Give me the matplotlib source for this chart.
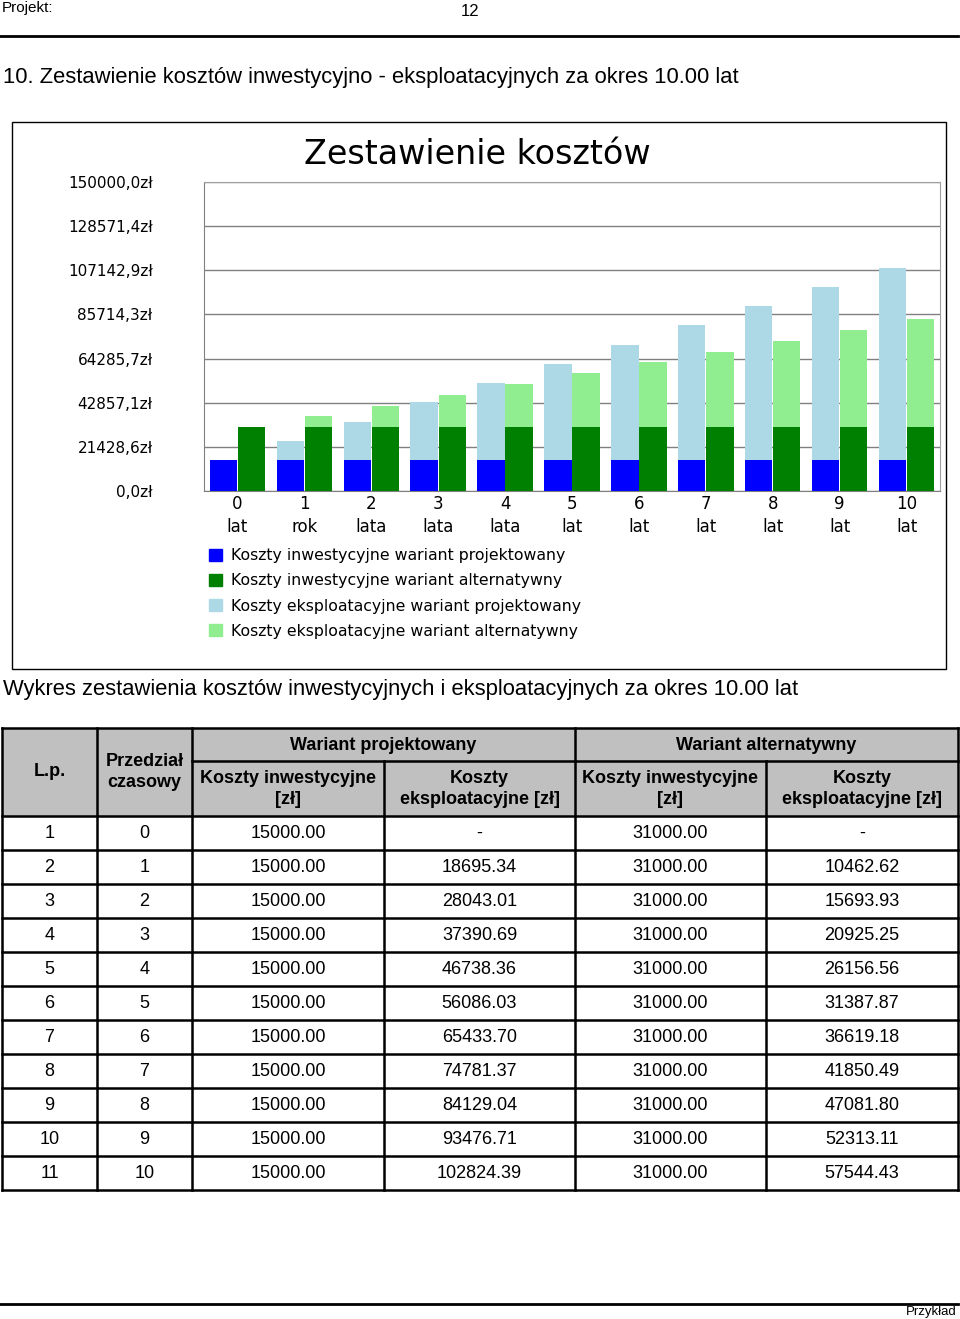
import matplotlib.pyplot as plt
import matplotlib.patches as mpatches
import numpy as np

plt.rcParams['font.family'] = ['Liberation Sans', 'DejaVu Sans']

# chart data
years = list(range(11))
year_units = ["lat", "rok", "lata", "lata", "lata", "lat", "lat", "lat", "lat", "lat", "lat"]
chart_inv_proj = [15000, 15000, 15000, 15000, 15000, 15000, 15000, 15000, 15000, 15000, 15000]
chart_inv_alt = [31000, 31000, 31000, 31000, 31000, 31000, 31000, 31000, 31000, 31000, 31000]
chart_op_proj = [0, 9347.67, 18695.34, 28043.01, 37390.69, 46738.36, 56086.03,
                 65433.70, 74781.37, 84129.04, 93476.71]
chart_op_alt = [0, 5231.31, 10462.62, 15693.93, 20925.25, 26156.56, 31387.87,
                36619.18, 41850.49, 47081.80, 52313.11]
legend_labels = ["Koszty inwestycyjne wariant projektowany",
                 "Koszty inwestycyjne wariant alternatywny",
                 "Koszty eksploatacyjne wariant projektowany",
                 "Koszty eksploatacyjne wariant alternatywny"]

# table data
lp = [1, 2, 3, 4, 5, 6, 7, 8, 9, 10, 11]
przedzial = [0, 1, 2, 3, 4, 5, 6, 7, 8, 9, 10]
inv_proj = [15000.00] * 11
op_proj = [None, 18695.34, 28043.01, 37390.69, 46738.36, 56086.03, 65433.70,
           74781.37, 84129.04, 93476.71, 102824.39]
inv_alt = [31000.00] * 11
op_alt = [None, 10462.62, 15693.93, 20925.25, 26156.56, 31387.87, 36619.18,
          41850.49, 47081.80, 52313.11, 57544.43]

W, H = 960, 1319
fig = plt.figure(figsize=(W / 100, H / 100), dpi=100)

# page layer in pixel coords
page = fig.add_axes([0, 0, 1, 1])
page.set_xlim(0, W)
page.set_ylim(H, 0)
page.axis('off')

page.text(2, 8, "Projekt:", fontsize=11, va='center', ha='left')
page.text(470, 12, "12", fontsize=12, va='center', ha='center')
page.plot([0, 958], [36, 36], color='black', lw=2)
page.text(3, 78, "10. Zestawienie kosztów inwestycyjno - eksploatacyjnych za okres 10.00 lat",
          fontsize=15.8, va='center', ha='left')
page.add_patch(mpatches.Rectangle((12, 122), 934, 547, fill=False, ec='black', lw=1))
page.text(3, 689, "Wykres zestawienia kosztów inwestycyjnych i eksploatacyjnych za okres 10.00 lat",
          fontsize=15.8, va='center', ha='left')
page.plot([0, 958], [1304, 1304], color='black', lw=2)
page.text(957, 1312, "Przykład", fontsize=9.5, va='center', ha='right')

# chart
left, right, top, bottom = 204, 940, 182, 491
ax = fig.add_axes([left / W, 1 - bottom / H, (right - left) / W, (bottom - top) / H])
x = np.arange(len(years))
bw = 0.41
ax.bar(x - 0.21, chart_inv_proj, bw, color='#0000ff', zorder=3)
ax.bar(x + 0.21, chart_inv_alt, bw, color='#008000', zorder=3)
ax.bar(x - 0.21, chart_op_proj, bw, bottom=chart_inv_proj, color='#add8e6', zorder=3)
ax.bar(x + 0.21, chart_op_alt, bw, bottom=chart_inv_alt, color='#90ee90', zorder=3)
ax.set_xlim(-0.5, 10.5)
ax.set_ylim(0, 150000)
yt = np.linspace(0, 150000, 8)
ax.set_yticks(yt)
ax.set_yticklabels([("%.1f" % v).replace('.', ',') + "zł" for v in yt],
                   fontsize=11, family='DejaVu Sans')
ax.set_xticks(x)
ax.set_xticklabels(["%d\n%s" % (y, u) for y, u in zip(years, year_units)],
                   fontsize=12, linespacing=1.35, family='DejaVu Sans')
ax.tick_params(axis='y', length=0, pad=37)
ax.tick_params(axis='x', length=0, pad=3)
ax.grid(axis='y', color='#808080', lw=1, zorder=0)
for s in ax.spines.values():
    s.set_color('#a0a0a0')
ax.spines['left'].set_color('#808080')
ax.spines['bottom'].set_color('#808080')
ax.set_title("Zestawienie kosztów", fontsize=24, family='DejaVu Sans', pad=13,
             x=(477 - left) / (right - left))

handles = [mpatches.Patch(color=c) for c in ['#0000ff', '#008000', '#add8e6', '#90ee90']]
fig.legend(handles, legend_labels, loc='upper left',
           bbox_to_anchor=(203 / W, 1 - 542 / H), frameon=False,
           prop={'family': 'DejaVu Sans', 'size': 11.3},
           handlelength=0.8, handleheight=0.8, handletextpad=0.6,
           labelspacing=0.65, borderaxespad=0)

# table
cols = [2, 97, 192, 384, 575, 766, 958]
t_top, t_mid, t_hdr = 728, 761, 816
row_h = 34
n = len(lp)
t_bot = t_hdr + n * row_h
page.add_patch(mpatches.Rectangle((cols[0], t_top), cols[-1] - cols[0], t_hdr - t_top,
                                  fc='#c0c0c0', ec='none'))
lw = 1.8
page.plot([cols[0], cols[-1]], [t_top, t_top], color='black', lw=lw)
page.plot([cols[2], cols[-1]], [t_mid, t_mid], color='black', lw=lw)
for i in range(n + 1):
    yy = t_hdr + i * row_h
    page.plot([cols[0], cols[-1]], [yy, yy], color='black', lw=lw)
for j, cx in enumerate(cols):
    y0 = t_mid if j in (3, 5) else t_top
    page.plot([cx, cx], [y0, t_bot], color='black', lw=lw)

hfont = dict(fontsize=13, fontweight='bold', ha='center', va='center')
page.text((cols[0] + cols[1]) / 2, 772, "L.p.", **hfont)
page.text((cols[1] + cols[2]) / 2, 772, "Przedział\nczasowy", linespacing=1.3, **hfont)
page.text((cols[2] + cols[4]) / 2, 745, "Wariant projektowany", **hfont)
page.text((cols[4] + cols[6]) / 2, 745, "Wariant alternatywny", **hfont)
for j, lab in zip(range(2, 6), ["Koszty inwestycyjne\n[zł]", "Koszty\neksploatacyjne [zł]",
                                "Koszty inwestycyjne\n[zł]", "Koszty\neksploatacyjne [zł]"]):
    page.text((cols[j] + cols[j + 1]) / 2, 789, lab, linespacing=1.3, **hfont)


def fmt(v):
    return "-" if v is None else "%.2f" % v


for i in range(n):
    yc = t_hdr + i * row_h + row_h / 2
    vals = [str(lp[i]), str(przedzial[i]), fmt(inv_proj[i]), fmt(op_proj[i]),
            fmt(inv_alt[i]), fmt(op_alt[i])]
    for j, v in enumerate(vals):
        page.text((cols[j] + cols[j + 1]) / 2, yc, v, fontsize=13, ha='center', va='center')

fig.savefig('out.png', dpi=100)
